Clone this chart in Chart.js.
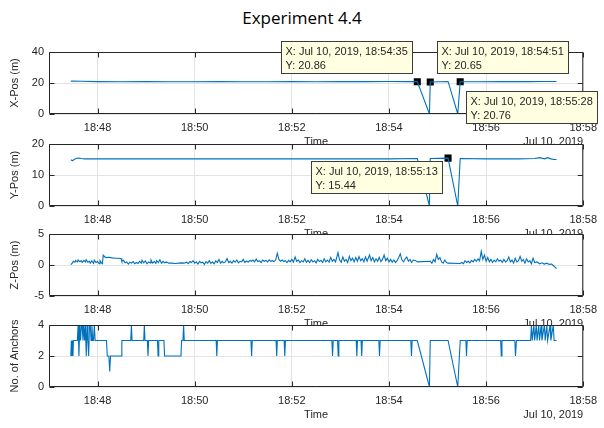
<!DOCTYPE html>
<html>
<head>
<meta charset="utf-8">
<title>Experiment 4.4</title>
<script src="https://cdn.jsdelivr.net/npm/chart.js@4.4.1/dist/chart.umd.min.js"></script>
<style>
  body { margin: 0; background: #fff; }
  #fig { position: relative; width: 604px; height: 428px; overflow: hidden; background: #fff; }
  #fig canvas { position: absolute; left: 0; }
  #title { position: absolute; top: 8px; left: 0; width: 604px; text-align: center;
           font: 17px "Open Sans", sans-serif; line-height: 20px; color: #000; }
</style>
</head>
<body>
<div id="fig">
  <div id="title">Experiment 4.4</div>
  <canvas id="pX"></canvas>
  <canvas id="pY"></canvas>
  <canvas id="pZ"></canvas>
  <canvas id="pA"></canvas>
</div>
<script>
// time axis: seconds after 18:47:00 on Jul 10, 2019
const timeTicks = [60, 180, 300, 420, 540, 660];

// X position (m)
const xTimes = [27, 40, 60, 90, 120, 150, 180, 210, 240, 270, 300, 330, 360, 390, 420, 445, 455, 470, 471, 493, 505, 508, 530, 560, 590, 610, 627];
const xVals  = [21.2, 21.1, 20.9, 20.8, 20.9, 20.8, 20.8, 20.9, 20.8, 20.8, 20.9, 20.8, 20.9, 20.9, 21.0, 20.9, 20.86, 0, 20.65, 21.0, 0, 20.76, 20.8, 20.9, 20.9, 21.0, 21.0];
const xTipTimes = [455, 471, 508];
const xTipVals  = [20.86, 20.65, 20.76];

// Y position (m)
const yTimes = [27, 29, 31, 34, 37, 40, 44, 60, 120, 180, 240, 300, 360, 420, 455, 470, 471, 493, 505, 508, 540, 580, 600, 606, 612, 616, 620, 624, 627];
const yVals  = [14.9, 14.6, 15.0, 15.4, 15.5, 15.3, 15.2, 15.2, 15.2, 15.2, 15.2, 15.2, 15.2, 15.2, 15.3, 0, 15.3, 15.44, 0, 15.3, 15.2, 15.2, 15.3, 15.6, 15.2, 15.6, 15.2, 15.0, 15.0];
const yTipTimes = [493];
const yTipVals  = [15.44];

// Z position (m)
const zTimes = [27, 29, 30, 32, 33, 35, 36, 38, 40, 41, 43, 45, 46, 48, 50, 51, 53, 55, 56, 58, 60, 62, 63, 65, 66,
  67, 68, 70, 74, 78, 82, 86, 89, 90,
  92, 94, 96, 98, 100, 102, 104, 106, 108, 110, 112, 114, 115, 117, 119, 121, 123, 125, 126, 128, 130, 132, 133, 135, 137, 139, 141, 143, 145, 148, 152, 156, 160, 164, 167, 170,
  172, 174, 176, 178, 180, 182, 184, 186, 188, 190, 192, 194, 196, 198, 200, 202, 204, 206, 208, 210, 212, 214, 216, 218, 220, 222, 224, 226, 228, 230, 232, 234, 236, 238, 240, 242, 244, 246, 248, 250, 252, 254, 256, 258, 260, 262, 264, 266, 268, 270, 272, 274, 276, 278, 280,
  282, 284, 286, 288, 290, 292, 294, 296, 298, 300, 302, 304, 306, 308, 310, 312, 314, 316, 318, 320, 322, 324, 326, 328, 330, 332, 334, 336, 338, 340, 342, 344, 346, 348, 350, 352, 354,
  357, 359, 361, 363, 365, 367, 369, 371, 373, 375, 377, 379, 381, 383, 385, 387, 389, 391, 393, 396, 398, 400, 402, 404, 406, 408, 410, 412, 414, 416, 418, 420, 422, 424, 426, 428, 430, 432, 434, 436, 438, 440, 442, 444, 446, 448,
  450, 453, 455, 471, 473, 475, 477, 479, 481, 483, 485, 487, 489, 491, 493, 508, 510,
  512, 514, 516, 518, 520, 522, 524, 526, 528, 530, 532, 534, 536, 538, 540, 542, 544, 546, 548, 550, 552, 554, 556, 558, 560,
  562, 564, 566, 568, 570, 572, 574, 576, 578, 580, 582, 584, 586, 588, 590, 592, 594, 596, 598, 600, 603, 606, 609, 612, 615, 618, 621, 624, 627];
const zVals = [0.05, 0.35, 0.6, 0.45, 0.75, 0.5, 0.8, 0.55, 0.7, 0.4, 0.75, 0.5, 0.85, 0.45, 0.6, 0.3, 0.65, 0.25, 0.8, 0.4, 0.55, 0.2, 0.7, 0.3, 0.2,
  1.6, 1.45, 1.2, 1.25, 1.15, 1.1, 1.1, 1.05, 0.6,
  0.75, 0.35, 0.5, 0.15, 0.45, 0.3, 0.55, 0.2, 0.4, 0.25, 0.6, 0.3, 0.75, 0.35, 0.65, 0.2, 0.5, 0.35, 0.8, 0.3, 0.55, 0.25, 0.7, 0.4, 0.85, 0.3, 0.6, 0.35, 0.5, 0.3, 0.3, 0.25, 0.3, 0.35, 0.3, 0.45,
  0.2, 0.55, 0.4, 0.7, 0.3, 0.5, 0.15, 0.6, 0.35, 0.45, 0.1, 0.55, 0.3, 0.7, 0.25, 0.5, 0.2, 0.65, 0.4, 0.9, 0.3, 0.6, 0.35, 0.55, 1.05, 0.4, 0.6, 0.3, 0.7, 0.45, 0.8, 0.35, 0.6, 0.5, 0.9, 0.4, 0.65, 0.45, 0.75, 0.6, 0.8, 0.5, 0.95, 0.55, 0.7, 0.4, 0.8, 0.6, 0.75, 0.5, 0.85, 0.6, 0.7, 0.55, 0.8,
  1.9, 0.9, 0.6, 0.8, 0.55, 0.7, 0.4, 0.75, 0.5, 0.9, 0.45, 1.3, 0.6, 0.8, 0.4, 0.7, 0.5, 1.0, 0.45, 0.75, 0.4, 0.85, 0.5, 0.7, 0.35, 0.9, 0.55, 0.75, 0.4, 1.0, 0.5, 0.8, 0.45, 1.2, 0.6, 0.9, 0.5,
  2.0, 0.8, 0.45, 1.3, 0.6, 0.9, 0.4, 1.4, 0.7, 1.1, 0.5, 1.2, 0.6, 1.35, 0.7, 1.0, 0.5, 1.3, 0.6, 1.6, 0.7, 1.2, 0.5, 1.0, 0.6, 1.25, 0.55, 0.9, 1.6, 0.7, 1.1, 0.5, 0.9, 0.45, 0.8, 0.4, 0.7, 1.2, 1.8, 0.8, 0.5, 1.0, 1.3, 0.6, 0.9, 0.4,
  0.8, 0.7, 0.5, 0.6, 0.3, 0.9, 0.5, 1.7, 0.9, 1.2, 0.5, 0.3, 0.8, 0.4, 0.3, 0.25, 0.4,
  0.2, 0.7, 0.4, 0.6, 0.35, 0.75, 0.5, 0.9, 0.6, 1.0, 0.7, 2.2, 0.9, 1.6, 0.6, 1.2, 0.5, 0.9, 0.4, 0.8, 0.5, 1.0, 0.6, 0.8, 0.4,
  0.9, 0.5, 0.7, 1.3, 0.5, 0.8, 0.3, 1.1, 0.5, 0.7, 1.4, 0.6, 0.9, 0.3, 1.0, 0.5, 0.7, 0.2, 1.1, 0.4, 0.5, 0.2, 0.35, 0.15, 0.3, 0.1, 0.15, -0.2, -0.6];

// number of anchors in range
const aTimes = [27, 27.6, 28.2, 29, 29.6, 30.2, 35, 36, 37, 38, 39, 40, 41, 42, 43, 44, 45, 46, 47, 48, 49, 50, 51, 52, 53, 54, 55, 56, 57,
  71, 72, 74, 75, 76, 89, 90, 101, 101.8, 102.6, 117, 117.8, 118.6, 121.5, 122.3, 123.1, 134, 134.8, 135.6, 142, 142.8, 163, 163.8,
  165.5, 166.3, 167.1, 206.5, 207.3, 208.1, 249.5, 250.3, 251.1, 280.5, 281.3, 282.1, 290.5, 291.3, 292.1, 349.5, 350.3, 351.1,
  356.5, 357.3, 358.1, 379.5, 380.3, 381.1, 385.5, 386.3, 387.1, 407.5, 408.3, 409.1, 447, 447.8, 448.6, 455, 470, 471, 493, 505, 508,
  515, 515.8, 516.6, 558, 558.8, 559.6, 575.5, 576.3, 577.5, 595, 596, 597, 599, 600, 602, 603, 605, 606, 608, 609, 612, 613, 615, 616, 619, 620, 623, 624, 627];
const aVals = [2, 3, 2, 3, 2, 3, 3, 4, 2, 4, 3, 4, 4, 3, 4, 3, 4, 2, 4, 3, 2, 4, 4, 3, 4, 3, 3, 4, 3,
  3, 2, 2, 1, 2, 2, 3, 3, 4, 3, 3, 4, 3, 3, 2, 3, 3, 2, 3, 3, 2, 2, 3,
  3, 4, 3, 3, 2, 3, 3, 2, 3, 3, 2, 3, 3, 2, 3, 3, 2, 3,
  3, 2, 3, 3, 2, 3, 3, 2, 3, 3, 2, 3, 3, 2, 3, 3, 0, 3, 3, 0, 3,
  3, 2, 3, 3, 2, 3, 3, 2, 3, 3, 4, 3, 4, 3, 4, 3, 4, 3, 4, 3, 4, 3, 4, 3, 4, 3, 4, 3, 3];

const INK = '#262626';
const LINE = '#0072bd';
const FONT = '"Liberation Sans", Arial, sans-serif';

Chart.defaults.font.family = FONT;
Chart.defaults.font.size = 11;
Chart.defaults.color = INK;

function clock(t) {
  const m = 47 + Math.floor(t / 60);
  const s = Math.round(t % 60);
  return '18:' + m + ':' + String(s).padStart(2, '0');
}

// white axes background, so the panel below hides the labels of the one above
const axesBg = {
  id: 'axesBg',
  beforeDraw(chart) {
    const { ctx, chartArea: a } = chart;
    ctx.save();
    ctx.fillStyle = '#fff';
    ctx.fillRect(a.left, a.top, a.right - a.left, a.bottom - a.top);
    ctx.restore();
  }
};

// box round the axes with inward tick marks
const axesBox = {
  id: 'axesBox',
  afterDatasetsDraw(chart) {
    const { ctx, chartArea: a, scales } = chart;
    const L = a.left + 0.5, R = a.right - 0.5, T = a.top + 0.5, B = a.bottom - 0.5;
    ctx.save();
    ctx.strokeStyle = INK;
    ctx.lineWidth = 1;
    ctx.beginPath();
    ctx.rect(L, T, R - L, B - T);
    scales.x.ticks.forEach(tk => {
      const px = Math.round(scales.x.getPixelForValue(tk.value)) + 0.5;
      ctx.moveTo(px, B); ctx.lineTo(px, B - 5);
      ctx.moveTo(px, T); ctx.lineTo(px, T + 5);
    });
    scales.y.ticks.forEach(tk => {
      const py = Math.round(scales.y.getPixelForValue(tk.value)) + 0.5;
      ctx.moveTo(L, py); ctx.lineTo(L + 5, py);
      ctx.moveTo(R, py); ctx.lineTo(R - 5, py);
    });
    ctx.stroke();
    ctx.restore();
  }
};

// date under the right end of the time axis, then the data tips
const overlay = {
  id: 'overlay',
  afterDraw(chart, args, opts) {
    const { ctx, chartArea: a, scales } = chart;
    ctx.save();
    ctx.font = '11px ' + FONT;
    ctx.fillStyle = INK;
    ctx.textAlign = 'right';
    ctx.textBaseline = 'middle';
    ctx.fillText('Jul 10, 2019', a.right, a.bottom + 28);

    (opts.tips || []).forEach(tip => {
      const px = scales.x.getPixelForValue(tip.t);
      const py = scales.y.getPixelForValue(tip.v);
      const bx = Math.round(px + tip.dx) + 0.5;
      const by = Math.round(py + tip.dy) + 0.5;
      ctx.fillStyle = '#ffffe1';
      ctx.strokeStyle = '#3c3c3c';
      ctx.lineWidth = 1;
      ctx.fillRect(bx, by, 131, 32);
      ctx.strokeRect(bx, by, 131, 32);
      ctx.fillStyle = INK;
      ctx.textAlign = 'left';
      ctx.fillText('X: Jul 10, 2019, ' + clock(tip.t), bx + 4, by + 10);
      ctx.fillText('Y: ' + tip.v.toFixed(2), bx + 4, by + 24);
    });
    ctx.restore();
  }
};

function panel(id, top, bottom, label, times, vals, yMin, yMax, yTicks, tipTimes, tipVals, tipOffsets) {
  const cv = document.getElementById(id);
  const padTop = 22, axisH = 36;
  cv.width = 604;
  cv.height = bottom - top + padTop + axisH;
  cv.style.top = (top - padTop) + 'px';

  const tips = (tipTimes || []).map((t, i) => ({ t, v: tipVals[i], dx: tipOffsets[i][0], dy: tipOffsets[i][1] }));
  const datasets = [{
    data: times.map((t, i) => ({ x: t, y: vals[i] })),
    borderColor: LINE,
    borderWidth: 1.1,
    pointRadius: 0,
    tension: 0
  }];
  if (tips.length) {
    datasets.push({
      data: tips.map(p => ({ x: p.t, y: p.v })),
      showLine: false,
      pointStyle: 'rect',
      pointRadius: 5,
      pointBackgroundColor: '#000',
      pointBorderColor: '#000',
      pointBorderWidth: 0
    });
  }

  return new Chart(cv, {
    type: 'line',
    data: { datasets },
    options: {
      responsive: false,
      animation: false,
      devicePixelRatio: 1,
      layout: { padding: { top: padTop, right: 20, bottom: 0, left: 0 } },
      plugins: {
        legend: { display: false },
        tooltip: { enabled: false },
        overlay: { tips }
      },
      scales: {
        x: {
          type: 'linear',
          min: 0,
          max: 660,
          afterBuildTicks: s => { s.ticks = timeTicks.map(v => ({ value: v })); },
          afterFit: s => { s.height = axisH; },
          ticks: { padding: 7, maxRotation: 0, autoSkip: false,
                   callback: v => '18:' + (47 + v / 60) },
          grid: { color: '#e4e4e4', drawTicks: false },
          border: { display: false },
          title: { display: true, text: 'Time', padding: { top: 0, bottom: 1 } }
        },
        y: {
          min: yMin,
          max: yMax,
          afterBuildTicks: s => { s.ticks = yTicks.map(v => ({ value: v })); },
          afterFit: s => { s.width = 49; },
          ticks: { padding: 5 },
          grid: { color: '#e4e4e4', drawTicks: false },
          border: { display: false },
          title: { display: true, text: label, padding: { top: 8, bottom: 0 } }
        }
      }
    },
    plugins: [axesBg, axesBox, overlay]
  });
}

panel('pX', 52, 114, 'X-Pos (m)', xTimes, xVals, 0, 40, [0, 20, 40],
  xTipTimes, xTipVals, [[-136, -41], [7, -41], [6, 9]]);
panel('pY', 144, 206, 'Y-Pos (m)', yTimes, yVals, 0, 20, [0, 10, 20],
  yTipTimes, yTipVals, [[-137, 3]]);
panel('pZ', 234, 296, 'Z-Pos (m)', zTimes, zVals, -5, 5, [-5, 0, 5]);
panel('pA', 325, 387, 'No. of Anchors', aTimes, aVals, 0, 4, [0, 2, 4]);
</script>
</body>
</html>
